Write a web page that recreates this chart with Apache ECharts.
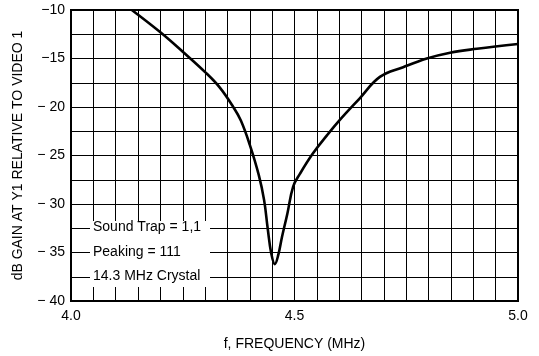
<!DOCTYPE html>
<html><head><meta charset="utf-8">
<script src="https://cdn.jsdelivr.net/npm/echarts@6/dist/echarts.min.js"></script>
<style>html,body{margin:0;padding:0;background:#fff}#c{width:539px;height:356px}</style>
</head><body><div id="c"></div>
<script>
const freqs = [4.136, 4.2, 4.25, 4.3, 4.333, 4.363, 4.38, 4.40, 4.42, 4.432, 4.44, 4.448, 4.456, 4.464, 4.472, 4.484, 4.497, 4.512, 4.541, 4.573, 4.6, 4.646, 4.691, 4.743, 4.796, 4.848, 4.908, 5.0];
const gains = [-10, -12.3, -14.3, -16.4, -18.0, -20.0, -21.4, -23.9, -27.0, -29.6, -32.5, -35.1, -36.2, -35.2, -33.4, -31.0, -28.2, -26.9, -24.8, -22.9, -21.4, -19.1, -16.9, -15.9, -15.0, -14.4, -14.0, -13.5];
const yTickValues = [-10, -15, -20, -25, -30, -35, -40];
const yTickLabels = ['\u221210', '\u221215', '\u2212 20', '\u2212 25', '\u2212 30', '\u2212 35', '\u2212 40'];
const xTickValues = [4.0, 4.5, 5.0];
const xTickLabels = ['4.0', '4.5', '5.0'];
const noteLines = ['Sound Trap = 1,1', 'Peaking = 111', '14.3 MHz Crystal'];
const yTitle = 'dB GAIN AT Y1 RELATIVE TO VIDEO 1';
const xTitle = 'f, FREQUENCY (MHz)';

const FONT = '"Liberation Sans Narrow", "Liberation Sans", Arial, sans-serif';
const chart = echarts.init(document.getElementById('c'), null, {renderer: 'canvas'});
const data = freqs.map((f, i) => [f, gains[i]]);
function findLabel(vals, labels, v) {
  for (let i = 0; i < vals.length; i++) if (Math.abs(vals[i] - v) < 1e-6) return labels[i];
  return '';
}
chart.setOption({
  animation: false,
  backgroundColor: '#fff',
  grid: {left: 71, right: 21, top: 10, bottom: 55, show: true, borderColor: '#000', borderWidth: 2, backgroundColor: 'transparent'},
  xAxis: {
    type: 'value', min: 4.0, max: 5.0, interval: 0.05,
    axisLine: {show: true, lineStyle: {color: '#000', width: 2}},
    axisTick: {show: false},
    splitLine: {show: true, lineStyle: {color: '#000', width: 1}},
    axisLabel: {color: '#000', fontFamily: FONT, fontSize: 14, margin: 8, showMaxLabel: true, showMinLabel: true,
      formatter: v => findLabel(xTickValues, xTickLabels, v)},
    name: xTitle, nameLocation: 'middle', nameGap: 36,
    nameTextStyle: {color: '#000', fontFamily: FONT, fontSize: 14}
  },
  yAxis: {
    type: 'value', min: -40, max: -10, interval: 2.5,
    axisLine: {show: true, lineStyle: {color: '#000', width: 2}},
    axisTick: {show: false},
    splitLine: {show: true, lineStyle: {color: '#000', width: 1}},
    axisLabel: {color: '#000', fontFamily: FONT, fontSize: 14, margin: 6,
      formatter: v => findLabel(yTickValues, yTickLabels, v)},
    name: yTitle, nameLocation: 'middle', nameGap: 46, nameRotate: 90,
    nameTextStyle: {color: '#000', fontFamily: FONT, fontSize: 14}
  },
  graphic: [
    {type: 'rect', left: 90, top: 221, shape: {width: 120, height: 66}, style: {fill: '#fff'}, z: 1},
    {type: 'text', left: 93, top: 220, z: 2, style: {text: noteLines[0], fill: '#000', font: '14px ' + FONT}},
    {type: 'text', left: 93, top: 245, z: 2, style: {text: noteLines[1], fill: '#000', font: '14px ' + FONT}},
    {type: 'text', left: 93, top: 269, z: 2, style: {text: noteLines[2], fill: '#000', font: '14px ' + FONT}}
  ],
  series: [{
    type: 'line', data: data, smooth: 0.4, showSymbol: false, symbol: 'none',
    lineStyle: {color: '#000', width: 2.6}, z: 5, clip: true
  }]
});
</script></body></html>
